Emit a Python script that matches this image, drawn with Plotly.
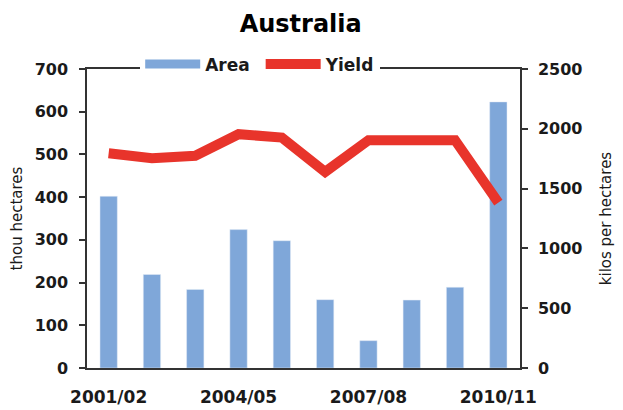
import plotly.graph_objects as go

seasons = ["2001/02", "2002/03", "2003/04", "2004/05", "2005/06",
           "2006/07", "2007/08", "2008/09", "2009/10", "2010/11"]
area = [402, 219, 184, 324, 298, 160, 64, 159, 189, 623]
yield_kg = [1796, 1754, 1774, 1955, 1927, 1640, 1905, 1905, 1905, 1383]
label_seasons = [seasons[0], seasons[3], seasons[6], seasons[9]]
left_ticks = [0, 100, 200, 300, 400, 500, 600, 700]
right_ticks = [0, 500, 1000, 1500, 2000, 2500]

BLUE = "#7fa7d9"
RED = "#e8342b"
AX = "#333333"
FONT = "DejaVu Sans"
NB = "\u00a0"

fig = go.Figure()
fig.add_trace(go.Bar(x=seasons, y=area, name="Area", marker_color=BLUE,
                     width=0.4, showlegend=False, yaxis="y"))
fig.add_trace(go.Scatter(x=[None], y=[None], mode="lines", name="Area" + NB,
                         line=dict(color=BLUE, width=9), yaxis="y"))
fig.add_trace(go.Scatter(x=seasons, y=yield_kg, mode="lines", name="Yield",
                         line=dict(color=RED, width=10), yaxis="y2"))

tick_font = dict(family=FONT, size=16, color="#1a1a1a", weight="bold")
xtick_font = dict(family=FONT, size=17, color="#1a1a1a", weight="bold")
title_font = dict(family=FONT, size=15, color="#1a1a1a")
fig.update_layout(
    width=615, height=402,
    margin=dict(l=79, r=103, t=61, b=42, autoexpand=False),
    paper_bgcolor="white", plot_bgcolor="white",
    title=dict(text="<b>Australia</b>", x=0.476, xanchor="center", y=1.0, yanchor="top",
               pad=dict(t=7), font=dict(family=FONT, size=24, color="black")),
    xaxis=dict(type="category", range=[-0.5, 9.5], tickvals=label_seasons,
               ticks="", showline=True, linecolor=AX, linewidth=1.5, mirror=True,
               tickfont=xtick_font, showgrid=False, zeroline=False,
               ticklabelstandoff=13, automargin=False),
    xaxis2=dict(overlaying="x", anchor="y", type="linear", range=[-0.5, 9.5],
                tickvals=[-0.5, 2.5, 5.5, 8.5, 9.5], showticklabels=False,
                ticks="outside", ticklen=6, tickcolor=AX, tickwidth=1.5,
                showgrid=False, zeroline=False, showline=False, automargin=False),
    yaxis=dict(range=[0, 700], tickvals=left_ticks, ticks="outside", ticklen=6,
               tickcolor=AX, tickwidth=1.5, showline=True, linecolor=AX, linewidth=1.5,
               showgrid=False, zeroline=False, tickfont=tick_font, ticklabelstandoff=8,
               automargin=False,
               title=dict(text="thou hectares", font=title_font, standoff=10)),
    yaxis2=dict(range=[0, 2500], tickvals=right_ticks, overlaying="y", side="right",
                ticks="outside", ticklen=6, tickcolor=AX, tickwidth=1.5,
                showline=True, linecolor=AX, linewidth=1.5, showgrid=False, zeroline=False,
                tickfont=tick_font, ticklabelstandoff=7, automargin=False,
                title=dict(text="kilos per hectares", font=title_font, standoff=19)),
    legend=dict(orientation="h", x=0.40, xanchor="center", y=1.015, yanchor="middle",
                bgcolor="white", font=dict(family=FONT, size=17, color="#1a1a1a", weight="bold"),
                itemwidth=55, tracegroupgap=0),
)
fig.write_html("out.html")
